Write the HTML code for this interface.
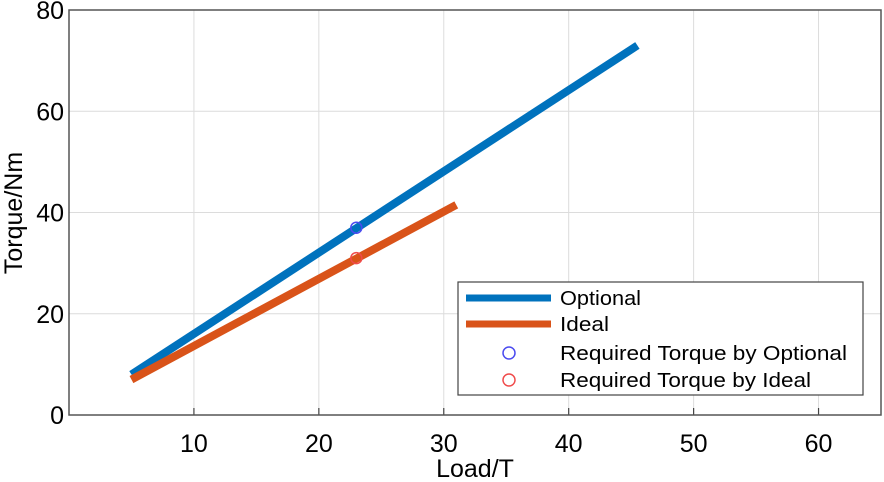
<!DOCTYPE html>
<html><head><meta charset="utf-8"><style>
html,body{margin:0;padding:0;background:#fff;}
svg{display:block;font-family:"Liberation Sans",Arial,sans-serif;}
</style></head><body>
<svg id="chart" width="884" height="482">
<g id="grid"></g><g id="marks"></g><g id="axes"></g>
</svg>
<script>
const xTicks=[10,20,30,40,50,60];
const yTicks=[0,20,40,60,80];
const optionalX=[5,45.5];
const optionalY=[8,73];
const idealX=[5,31];
const idealY=[7,41.5];
const reqOptX=[23];
const reqOptY=[37];
const reqIdealX=[23];
const reqIdealY=[31];
const L=69,R=881,T=10,B=415,XMIN=0,XMAX=65,YMIN=0,YMAX=80;
const sx=v=>L+(v-XMIN)/(XMAX-XMIN)*(R-L);
const sy=v=>B-(v-YMIN)/(YMAX-YMIN)*(B-T);
const NS='http://www.w3.org/2000/svg';
function mk(p,t,a){const e=document.createElementNS(NS,t);for(const k in a)e.setAttribute(k,a[k]);p.appendChild(e);return e;}
const grid=document.getElementById('grid'),marks=document.getElementById('marks'),axes=document.getElementById('axes');
xTicks.forEach(v=>{const l=mk(grid,'line',{x1:sx(v),x2:sx(v),y1:T,y2:B,stroke:'#dcdcdc','stroke-width':1});


const tk=mk(axes,'line',{x1:sx(v),x2:sx(v),y1:B,y2:B-7,stroke:'#444','stroke-width':1.2});


const t=mk(axes,'text',{x:sx(v),y:452,'text-anchor':'middle','font-size':25,fill:'#000'});t.textContent=v;

});
yTicks.forEach(v=>{const l=mk(grid,'line',{x1:L,x2:R,y1:sy(v),y2:sy(v),stroke:'#dcdcdc','stroke-width':1});


const t=mk(axes,'text',{x:L-5,y:sy(v)+9,'text-anchor':'end','font-size':25,fill:'#000'});t.textContent=v;

});
const fr=mk(axes,'rect',{x:L,y:T,width:R-L,height:B-T,fill:'none',stroke:'#555','stroke-width':1.5});


function line(xs,ys,c,n){const p=mk(marks,'polyline',{points:xs.map((x,i)=>sx(x)+','+sy(ys[i])).join(' '),fill:'none',stroke:c,'stroke-width':8});

}
line(optionalX,optionalY,'#0072bd','optional-line');
line(idealX,idealY,'#d95319','ideal-line');
reqOptX.forEach((x,i)=>{const c=mk(marks,'circle',{cx:sx(x),cy:sy(reqOptY[i]),r:5.5,fill:'none',stroke:'#4b4bf0','stroke-width':1.5});

});
reqIdealX.forEach((x,i)=>{const c=mk(marks,'circle',{cx:sx(x),cy:sy(reqIdealY[i]),r:5.5,fill:'none',stroke:'#f04b4b','stroke-width':1.5});

});
</script>
<svg style="position:absolute;left:0;top:0" width="884" height="482">
<text x="475" y="477" text-anchor="middle" font-size="25" font-family="Liberation Sans,Arial,sans-serif">Load/T</text>
<text transform="translate(22,213) rotate(-90)" text-anchor="middle" font-size="25" font-family="Liberation Sans,Arial,sans-serif">Torque/Nm</text>
<g font-family="Liberation Sans,Arial,sans-serif" font-size="20">
<rect x="458" y="282" width="405" height="113" fill="#fff" stroke="#444" stroke-width="1.2"/>
<line x1="466" y1="298" x2="551" y2="298" stroke="#0072bd" stroke-width="7"/>
<text x="560" y="305" textLength="81" lengthAdjust="spacingAndGlyphs">Optional</text>
<line x1="466" y1="324" x2="551" y2="324" stroke="#d95319" stroke-width="7"/>
<text x="560" y="331" textLength="49" lengthAdjust="spacingAndGlyphs">Ideal</text>
<circle cx="509" cy="353" r="6" fill="none" stroke="#4b4bf0" stroke-width="1.5"/>
<text x="560" y="360" textLength="287" lengthAdjust="spacingAndGlyphs">Required Torque by Optional</text>
<circle cx="509" cy="380" r="6" fill="none" stroke="#f04b4b" stroke-width="1.5"/>
<text x="560" y="387" textLength="251" lengthAdjust="spacingAndGlyphs">Required Torque by Ideal</text>
</g>
</svg>
</body></html>
